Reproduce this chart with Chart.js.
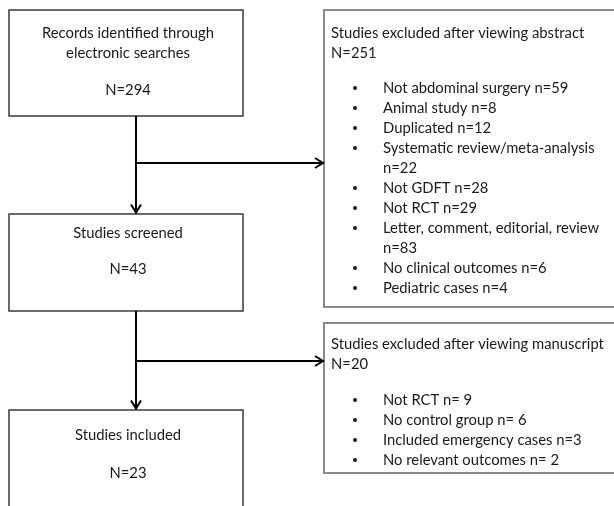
<!DOCTYPE html>
<html>
<head>
<meta charset="utf-8">
<script src="https://cdn.jsdelivr.net/npm/chart.js@4.4.1/dist/chart.umd.min.js"></script>
<style>
  html, body { margin: 0; padding: 0; background: #fff; }
  #wrap { width: 614px; height: 506px; }
</style>
</head>
<body>
<div id="wrap"><canvas id="flow" width="614" height="506"></canvas></div>
<script>
// flow stages (left column)
const stageLabels = [
  ['Records identified through', 'electronic searches'],
  ['Studies screened'],
  ['Studies included']
];
const stageN = [294, 43, 23];

// exclusions (right column)
const excludedTitles = ['Studies excluded after viewing abstract', 'Studies excluded after viewing manuscript'];
const excludedN = [251, 20];

const abstractReasons = ['Not abdominal surgery', 'Animal study', 'Duplicated', 'Systematic review/meta-analysis',
  'Not GDFT', 'Not RCT', 'Letter, comment, editorial, review', 'No clinical outcomes', 'Pediatric cases'];
const abstractN = [59, 8, 12, 22, 28, 29, 83, 6, 4];

const manuscriptReasons = ['Not RCT', 'No control group', 'Included emergency cases', 'No relevant outcomes'];
const manuscriptN = [9, 6, 3, 2];
const manuscriptSep = [' n= ', ' n= ', ' n=', ' n= '];

// layout in a 614 x 506 frame
const FONT = '14.8px Lato, "Open Sans", sans-serif';
const LINE_H = 20;
const leftBoxes = [
  { x0: 9, y0: 10, x1: 243, y1: 116, lines: [33, 53], nY: 90 },
  { x0: 9, y0: 214, x1: 243, y1: 311, lines: [233], nY: 269 },
  { x0: 9, y0: 410, x1: 243, y1: 520, lines: [435], nY: 473 }
];
const rightBoxes = [
  { x0: 324, y0: 10, x1: 640, y1: 307, titleY: 33, listY: 88 },
  { x0: 324, y0: 323, x1: 640, y1: 473, titleY: 344, listY: 400 }
];
const trunkX = 136;
const branchY = [163, 361];

const flowPlugin = {
  id: 'flow',
  afterDraw(chart) {
    const ctx = chart.ctx;
    const sx = chart.scales.x, sy = chart.scales.y;
    const X = v => sx.getPixelForValue(v);
    const Y = v => sy.getPixelForValue(v);

    ctx.save();
    ctx.font = FONT;
    ctx.fillStyle = '#1a1a1a';
    ctx.textBaseline = 'middle';

    // left boxes
    leftBoxes.forEach((b, i) => {
      ctx.strokeStyle = '#3a3a3a';
      ctx.lineWidth = 1.5;
      ctx.strokeRect(X(b.x0), Y(b.y0), X(b.x1) - X(b.x0), Y(b.y1) - Y(b.y0));
      ctx.textAlign = 'center';
      const cx = X((b.x0 + b.x1) / 2 + 2);
      stageLabels[i].forEach((t, j) => ctx.fillText(t, cx, Y(b.lines[j])));
      ctx.fillText('N=' + stageN[i], cx, Y(b.nY));
    });

    // right boxes
    const lists = [
      abstractReasons.map((r, i) => r + ' n=' + abstractN[i]),
      manuscriptReasons.map((r, i) => r + manuscriptSep[i] + manuscriptN[i])
    ];
    rightBoxes.forEach((b, i) => {
      ctx.strokeStyle = '#8a8a8a';
      ctx.lineWidth = 2;
      ctx.strokeRect(X(b.x0), Y(b.y0), X(b.x1) - X(b.x0), Y(b.y1) - Y(b.y0));
      ctx.textAlign = 'left';
      ctx.fillText(excludedTitles[i], X(b.x0 + 7), Y(b.titleY));
      ctx.fillText('N=' + excludedN[i], X(b.x0 + 7), Y(b.titleY + LINE_H));
      let y = b.listY;
      lists[i].forEach(item => {
        ctx.beginPath();
        ctx.arc(X(b.x0 + 31), Y(y), 2, 0, Math.PI * 2);
        ctx.fill();
        // wrap the count onto the next line when the item is too long
        const tx = X(b.x0 + 59);
        if (tx + ctx.measureText(item).width > X(595)) {
          const cut = item.lastIndexOf(' n=');
          ctx.fillText(item.slice(0, cut), tx, Y(y));
          y += LINE_H;
          ctx.fillText(item.slice(cut + 1), tx, Y(y));
        } else {
          ctx.fillText(item, tx, Y(y));
        }
        y += LINE_H;
      });
    });

    // connectors
    ctx.strokeStyle = '#000';
    ctx.lineWidth = 2;
    const chevronDown = (x, y) => {
      ctx.beginPath();
      ctx.moveTo(X(x - 5), Y(y - 8));
      ctx.lineTo(X(x), Y(y));
      ctx.lineTo(X(x + 5), Y(y - 8));
      ctx.stroke();
    };
    const chevronRight = (x, y) => {
      ctx.beginPath();
      ctx.moveTo(X(x - 8), Y(y - 5));
      ctx.lineTo(X(x), Y(y));
      ctx.lineTo(X(x - 8), Y(y + 5));
      ctx.stroke();
    };
    for (let i = 0; i < 2; i++) {
      const top = leftBoxes[i].y1, tip = leftBoxes[i + 1].y0 - 1.5;
      ctx.beginPath();
      ctx.moveTo(X(trunkX), Y(top));
      ctx.lineTo(X(trunkX), Y(tip));
      ctx.moveTo(X(trunkX), Y(branchY[i]));
      ctx.lineTo(X(rightBoxes[i].x0 - 1), Y(branchY[i]));
      ctx.stroke();
      chevronDown(trunkX, tip);
      chevronRight(rightBoxes[i].x0 - 1, branchY[i]);
    }
    ctx.restore();
  }
};

new Chart(document.getElementById('flow'), {
  type: 'scatter',
  data: { datasets: [] },
  options: {
    responsive: false,
    animation: false,
    layout: { padding: 0 },
    plugins: { legend: { display: false }, tooltip: { enabled: false } },
    scales: {
      x: { type: 'linear', min: 0, max: 614, display: false },
      y: { type: 'linear', min: 0, max: 506, reverse: true, display: false }
    }
  },
  plugins: [flowPlugin]
});
</script>
</body>
</html>
